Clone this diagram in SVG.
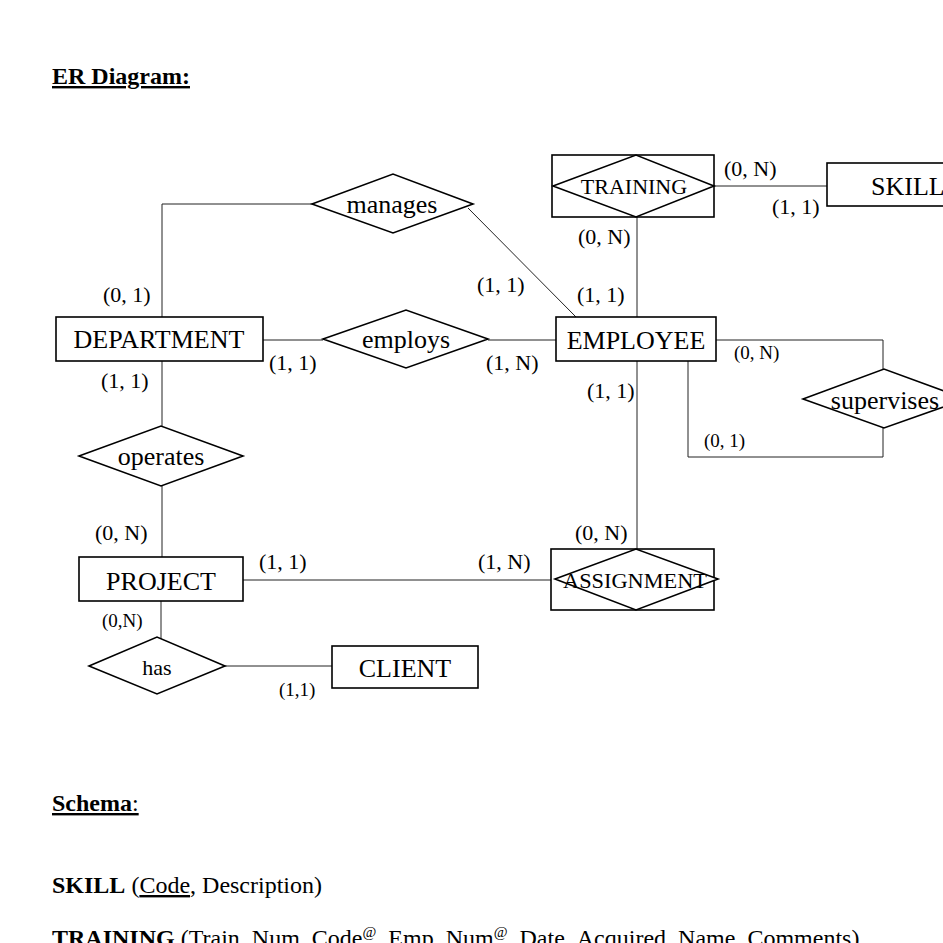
<svg xmlns="http://www.w3.org/2000/svg" width="943" height="943" viewBox="0 0 943 943">
<style>
text{font-family:"Liberation Serif","Times New Roman",serif;fill:#000}
.shape{fill:#fff;stroke:#000;stroke-width:1.6}
.conn{fill:none;stroke:#222;stroke-width:1}
.ent{font-size:26px;text-anchor:middle}
.rel{font-size:26px;text-anchor:middle}
.weak{font-size:22px;text-anchor:middle}
.card{font-size:22px}
.cs{font-size:19px}
.head{font-size:24px;font-weight:bold}
.body{font-size:24px}
</style>
<rect width="943" height="943" fill="#fff"/>
<text class="head" x="52" y="84" text-decoration="underline">ER Diagram:</text>

<g id="connectors">
<polyline class="conn" points="312,204 162,204 162,317"/>
<line class="conn" x1="468" y1="208" x2="576" y2="317"/>
<line class="conn" x1="263" y1="340" x2="323" y2="340"/>
<line class="conn" x1="488" y1="340" x2="556" y2="340"/>
<line class="conn" x1="714" y1="186" x2="827" y2="186"/>
<line class="conn" x1="637" y1="217" x2="637" y2="317"/>
<line class="conn" x1="162" y1="361" x2="162" y2="427"/>
<line class="conn" x1="162" y1="486" x2="162" y2="557"/>
<line class="conn" x1="243" y1="580" x2="555" y2="580"/>
<line class="conn" x1="637" y1="361" x2="637" y2="549"/>
<polyline class="conn" points="716,340 883,340 883,369"/>
<polyline class="conn" points="883,428 883,457 688,457 688,361"/>
<line class="conn" x1="161" y1="601" x2="161" y2="639"/>
<line class="conn" x1="225" y1="666" x2="332" y2="666"/>
</g>

<g id="training">
<rect class="shape" x="552" y="155" width="162" height="62"/>
<polygon class="shape" points="553,186 636,155 714,186 636,217" fill="none"/>
<text class="weak" x="634" y="194">TRAINING</text>
</g>
<g id="skill">
<rect class="shape" x="827" y="163" width="130" height="43"/>
<text class="ent" x="871" y="195" style="text-anchor:start">SKILL</text>
</g>
<g id="manages">
<polygon class="shape" points="312,204 393,174 473,204 393,233"/>
<text class="rel" x="392" y="213">manages</text>
</g>
<g id="department">
<rect class="shape" x="56" y="317" width="207" height="44"/>
<text class="ent" x="159" y="348">DEPARTMENT</text>
</g>
<g id="employs">
<polygon class="shape" points="323,339 406,310 488,339 406,368"/>
<text class="rel" x="406" y="348">employs</text>
</g>
<g id="employee">
<rect class="shape" x="556" y="317" width="160" height="44"/>
<text class="ent" x="636" y="349">EMPLOYEE</text>
</g>
<g id="supervises">
<polygon class="shape" points="803,399 884,369 966,399 884,428"/>
<text class="rel" x="885" y="409">supervises</text>
</g>
<g id="operates">
<polygon class="shape" points="79,456 161,426 243,456 161,486"/>
<text class="rel" x="161" y="465">operates</text>
</g>
<g id="project">
<rect class="shape" x="79" y="557" width="164" height="44"/>
<text class="ent" x="161" y="590">PROJECT</text>
</g>
<g id="assignment">
<rect class="shape" x="551" y="549" width="163" height="61"/>
<polygon class="shape" points="555,579 636,549 718,579 636,610" fill="none"/>
<text class="weak" x="635" y="588" textLength="144" lengthAdjust="spacingAndGlyphs">ASSIGNMENT</text>
</g>
<g id="has">
<polygon class="shape" points="89,666 157,637 225,666 157,694"/>
<text class="rel" x="157" y="675" style="font-size:22px">has</text>
</g>
<g id="client">
<rect class="shape" x="332" y="646" width="146" height="42"/>
<text class="ent" x="405" y="677">CLIENT</text>
</g>

<g id="cardinalities">
<text class="card" x="724" y="176">(0, N)</text>
<text class="card" x="772" y="214">(1, 1)</text>
<text class="card" x="578" y="244">(0, N)</text>
<text class="card" x="103" y="302">(0, 1)</text>
<text class="card" x="477" y="292">(1, 1)</text>
<text class="card" x="577" y="302">(1, 1)</text>
<text class="card" x="269" y="370">(1, 1)</text>
<text class="card" x="486" y="370">(1, N)</text>
<text class="card" x="101" y="388">(1, 1)</text>
<text class="card" x="587" y="398">(1, 1)</text>
<text class="cs" x="734" y="359">(0, N)</text>
<text class="cs" x="704" y="447">(0, 1)</text>
<text class="card" x="95" y="540">(0, N)</text>
<text class="card" x="575" y="540">(0, N)</text>
<text class="card" x="259" y="569">(1, 1)</text>
<text class="card" x="478" y="569">(1, N)</text>
<text class="cs" x="102" y="627">(0,N)</text>
<text class="cs" x="279" y="696">(1,1)</text>
</g>

<text class="body" x="52" y="811"><tspan font-weight="bold" text-decoration="underline">Schema</tspan><tspan text-decoration="underline">:</tspan></text>
<text class="body" x="52" y="893"><tspan font-weight="bold">SKILL</tspan> (<tspan text-decoration="underline">Code</tspan>, Description)</text>
<text class="body" x="52" y="946"><tspan font-weight="bold">TRAINING</tspan> (<tspan text-decoration="underline">Train_Num</tspan>, Code<tspan font-size="15" dy="-9">@</tspan><tspan dy="9">, Emp_Num</tspan><tspan font-size="15" dy="-9">@</tspan><tspan dy="9">, Date_Acquired, Name, Comments)</tspan></text>
</svg>
